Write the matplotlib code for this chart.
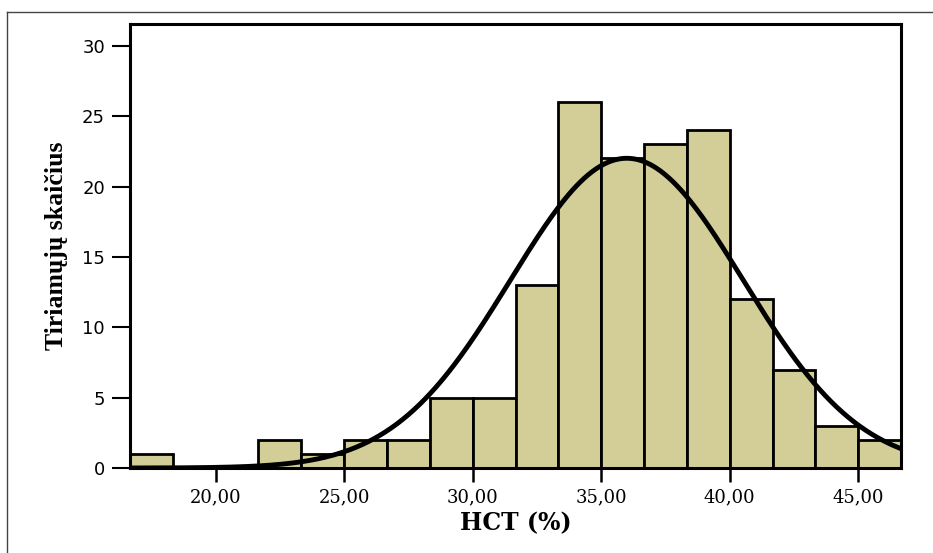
import numpy as np
import matplotlib.pyplot as plt
from matplotlib.lines import Line2D

# histogram counts (18 bins from 16.67 to 46.67)
bin_start = 16.67
bin_width = 30.0 / 18
counts = [1, 0, 0, 2, 1, 2, 2, 5, 5, 13, 26, 22, 23, 24, 12, 7, 3, 2]

# fitted normal curve
mean_hct = 36.0
sd_hct = 4.53
n_total = sum(counts)

xticks = [20, 25, 30, 35, 40, 45]
xtick_labels = ["20,00", "25,00", "30,00", "35,00", "40,00", "45,00"]
yticks = [0, 5, 10, 15, 20, 25, 30]

edges = bin_start + bin_width * np.arange(len(counts) + 1)

fig = plt.figure(figsize=(9.33, 5.53), dpi=100)
ax = fig.add_axes([130 / 933, 1 - 468 / 553, (901 - 130) / 933, (468 - 24) / 553])

ax.bar(edges[:-1], counts, width=bin_width, align="edge",
       color="#d3ce97", edgecolor="black", linewidth=2, zorder=2)

xs = np.linspace(edges[0], edges[-1], 400)
ys = n_total * bin_width / (sd_hct * np.sqrt(2 * np.pi)) * np.exp(-0.5 * ((xs - mean_hct) / sd_hct) ** 2)
ax.plot(xs, ys, color="black", linewidth=3.5, zorder=3, clip_on=True)

ax.set_xlim(edges[0], edges[-1])
ax.set_ylim(0, 31.56)

for s in ax.spines.values():
    s.set_linewidth(2.2)
    s.set_zorder(4)

ax.set_yticks(yticks)
ax.set_yticklabels([str(v) for v in yticks], fontfamily="DejaVu Sans", fontsize=13)
ax.set_xticks(xticks)
ax.set_xticklabels(xtick_labels, fontfamily="DejaVu Serif", fontsize=13)
ax.tick_params(axis="y", length=13, width=1.5, pad=5, direction="out")
ax.tick_params(axis="x", length=10, width=1.8, pad=5, direction="out")

ax.set_xlabel("HCT (%)", fontfamily="DejaVu Serif", fontweight="bold", fontsize=17, labelpad=3)
ax.set_ylabel("Tiriamųjų skaičius", fontfamily="Liberation Serif", fontweight="bold", fontsize=18.5, labelpad=10)

# outer frame
fx = 7 / 933
fy = 1 - 12 / 553
fig.add_artist(Line2D([fx, fx], [0, fy], transform=fig.transFigure, color="#444444", linewidth=1))
fig.add_artist(Line2D([fx, 1], [fy, fy], transform=fig.transFigure, color="#444444", linewidth=1))

fig.savefig("out.png", dpi=100)
